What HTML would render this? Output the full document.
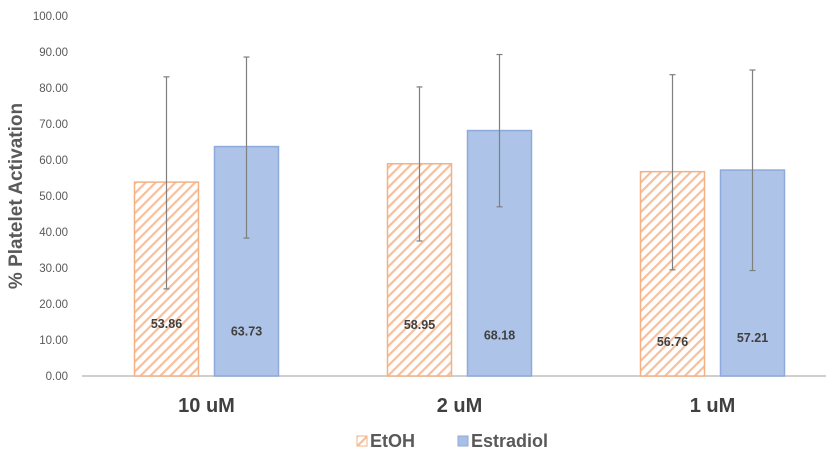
<!DOCTYPE html>
<html><head><meta charset="utf-8"><style>
body{margin:0;background:#fff;}
svg text{font-family:"Liberation Sans",sans-serif;}
</style></head><body>
<svg id="chart" width="826" height="460" xmlns="http://www.w3.org/2000/svg">
<defs>
<pattern id="hatch" patternUnits="userSpaceOnUse" width="7" height="7" patternTransform="rotate(45)">
<rect width="7" height="7" fill="#fff"/>
<rect width="2.2" height="7" fill="#f7bf9c"/>
</pattern>
</defs>
<g id="yaxis"></g>
<g id="bars"></g>
<text transform="translate(22,196) rotate(-90)" text-anchor="middle" font-size="19" font-weight="bold" fill="#595959">% Platelet Activation</text>
<g>
<rect x="357" y="436" width="10" height="10" fill="url(#hatch)" stroke="#f4b183" stroke-width="1"/>
<text x="370" y="447" font-size="18" font-weight="bold" fill="#595959">EtOH</text>
<rect x="458" y="436" width="10" height="10" fill="#a9bfe5" stroke="#8fa9d9"/>
<text x="471" y="447" font-size="18" font-weight="bold" fill="#595959">Estradiol</text>
</g>
</svg>
<script>
const categories = ["10 uM","2 uM","1 uM"];
const etohValues = [53.86,58.95,56.76];
const estradiolValues = [63.73,68.18,57.21];
const etohErrHigh = [83.1,80.3,83.7];
const etohErrLow = [24.2,37.5,29.5];
const estErrHigh = [88.6,89.3,85.0];
const estErrLow = [38.3,47.0,29.3];
const yTicks = [0,10,20,30,40,50,60,70,80,90,100];
const labelValues = [14.5,14.2,9.5];
const labelValues2 = [12.3,11.3,10.5];

const NS="http://www.w3.org/2000/svg";
const svg=document.getElementById('chart');
const y0=376, y100=16, x0=82, x1=826;
const yS=v=>y0-(y0-y100)*v/100;
const band=253, start=80;
const xC=i=>start+band*(i+0.5);
function mk(tag,attrs,parent){const e=document.createElementNS(NS,tag);for(const k in attrs)e.setAttribute(k,attrs[k]);parent.appendChild(e);return e;}
const ya=document.getElementById('yaxis');
yTicks.forEach(t=>{
  const tx=mk('text',{x:68,y:yS(t)+4,'text-anchor':'end','font-size':'11.5',fill:'#595959'},ya);
  
  
  tx.textContent=t.toFixed(2);
});
const ax=mk('line',{x1:x0,x2:x1,y1:y0,y2:y0,stroke:'#bfbfbf','stroke-width':1.5},ya);


const g=document.getElementById('bars');
function err(x,hi,lo){
  const l=mk('line',{x1:x,x2:x,y1:yS(hi),y2:yS(lo),stroke:'#7f7f7f','stroke-width':1.2},g);
  
  
  [hi,lo].forEach(v=>{const c=mk('line',{x1:x-3,x2:x+3,y1:yS(v),y2:yS(v),stroke:'#7f7f7f','stroke-width':1.2},g);
    
    });
}
categories.forEach((c,i)=>{
  const cx=xC(i);
  const ex=cx-72, sx=cx+8, w=64;
  const r1=mk('rect',{x:ex,y:yS(etohValues[i]),width:w,height:y0-yS(etohValues[i]),fill:'url(#hatch)',stroke:'#f4b183','stroke-width':1.5},g);
  
  
  const r2=mk('rect',{x:sx,y:yS(estradiolValues[i]),width:w,height:y0-yS(estradiolValues[i]),fill:'#adc3e8',stroke:'#8eaadb','stroke-width':1.5},g);
  
  
  err(ex+w/2,etohErrHigh[i],etohErrLow[i]);
  err(sx+w/2,estErrHigh[i],estErrLow[i]);
  const l1=mk('text',{x:ex+w/2,y:yS(labelValues[i])+4,'text-anchor':'middle','font-size':'12.5','font-weight':'bold',fill:'#404040'},g);
  
  
  l1.textContent=etohValues[i].toFixed(2);
  const l2=mk('text',{x:sx+w/2,y:yS(labelValues2[i])+4,'text-anchor':'middle','font-size':'12.5','font-weight':'bold',fill:'#404040'},g);
  
  
  l2.textContent=estradiolValues[i].toFixed(2);
  const cl=mk('text',{x:cx,y:412,'text-anchor':'middle','font-size':'20','font-weight':'bold',fill:'#404040'},g);
  
  
  cl.textContent=c;
});
</script>
</body></html>
